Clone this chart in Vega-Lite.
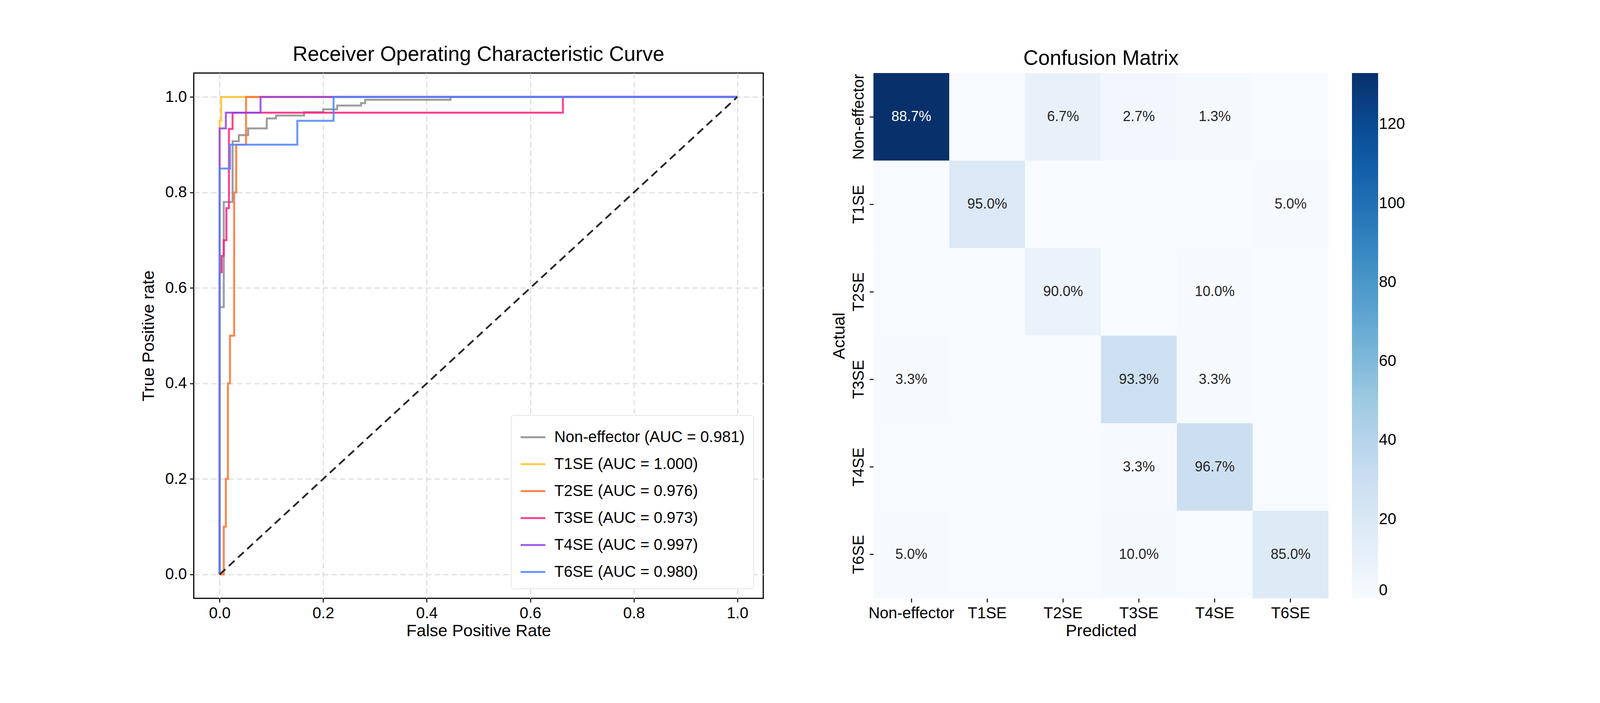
{
"$schema":"https://vega.github.io/schema/vega-lite/v6.json",
"background":"white",
"padding":{"left":357,"top":112,"right":20,"bottom":20},
"spacing":170,
"config":{"font":"Liberation Sans","view":{"stroke":"black","strokeWidth":3},"title":{"fontSize":53,"fontWeight":"normal","color":"black","offset":20},
"axis":{"labelFontSize":40,"titleFontSize":43,"titleFontWeight":"normal","labelColor":"black","titleColor":"black","tickColor":"black","tickSize":10,"tickWidth":2.5,"domain":false,"labelPadding":8,"labelLimit":1000}},
"datasets":{
"roc":[
{"s":"Non-effector (AUC = 0.981)","i":0,"fpr":0,"tpr":0},{"s":"Non-effector (AUC = 0.981)","i":1,"fpr":0,"tpr":0.56},{"s":"Non-effector (AUC = 0.981)","i":2,"fpr":0.008,"tpr":0.56},{"s":"Non-effector (AUC = 0.981)","i":3,"fpr":0.008,"tpr":0.78},{"s":"Non-effector (AUC = 0.981)","i":4,"fpr":0.025,"tpr":0.78},{"s":"Non-effector (AUC = 0.981)","i":5,"fpr":0.025,"tpr":0.907},{"s":"Non-effector (AUC = 0.981)","i":6,"fpr":0.037,"tpr":0.907},{"s":"Non-effector (AUC = 0.981)","i":7,"fpr":0.037,"tpr":0.92},{"s":"Non-effector (AUC = 0.981)","i":8,"fpr":0.055,"tpr":0.92},{"s":"Non-effector (AUC = 0.981)","i":9,"fpr":0.055,"tpr":0.934},{"s":"Non-effector (AUC = 0.981)","i":10,"fpr":0.091,"tpr":0.934},{"s":"Non-effector (AUC = 0.981)","i":11,"fpr":0.091,"tpr":0.955},{"s":"Non-effector (AUC = 0.981)","i":12,"fpr":0.109,"tpr":0.955},{"s":"Non-effector (AUC = 0.981)","i":13,"fpr":0.109,"tpr":0.961},{"s":"Non-effector (AUC = 0.981)","i":14,"fpr":0.163,"tpr":0.961},{"s":"Non-effector (AUC = 0.981)","i":15,"fpr":0.163,"tpr":0.968},{"s":"Non-effector (AUC = 0.981)","i":16,"fpr":0.2,"tpr":0.968},{"s":"Non-effector (AUC = 0.981)","i":17,"fpr":0.2,"tpr":0.974},{"s":"Non-effector (AUC = 0.981)","i":18,"fpr":0.227,"tpr":0.974},{"s":"Non-effector (AUC = 0.981)","i":19,"fpr":0.227,"tpr":0.982},{"s":"Non-effector (AUC = 0.981)","i":20,"fpr":0.273,"tpr":0.982},{"s":"Non-effector (AUC = 0.981)","i":21,"fpr":0.273,"tpr":0.987},{"s":"Non-effector (AUC = 0.981)","i":22,"fpr":0.281,"tpr":0.987},{"s":"Non-effector (AUC = 0.981)","i":23,"fpr":0.281,"tpr":0.994},{"s":"Non-effector (AUC = 0.981)","i":24,"fpr":0.446,"tpr":0.994},{"s":"Non-effector (AUC = 0.981)","i":25,"fpr":0.446,"tpr":1},{"s":"Non-effector (AUC = 0.981)","i":26,"fpr":1,"tpr":1},
{"s":"T1SE (AUC = 1.000)","i":0,"fpr":0,"tpr":0},{"s":"T1SE (AUC = 1.000)","i":1,"fpr":0,"tpr":0.95},{"s":"T1SE (AUC = 1.000)","i":2,"fpr":0.003,"tpr":0.95},{"s":"T1SE (AUC = 1.000)","i":3,"fpr":0.003,"tpr":1},{"s":"T1SE (AUC = 1.000)","i":4,"fpr":1,"tpr":1},
{"s":"T2SE (AUC = 0.976)","i":0,"fpr":0,"tpr":0},{"s":"T2SE (AUC = 0.976)","i":1,"fpr":0.008,"tpr":0},{"s":"T2SE (AUC = 0.976)","i":2,"fpr":0.008,"tpr":0.1},{"s":"T2SE (AUC = 0.976)","i":3,"fpr":0.012,"tpr":0.1},{"s":"T2SE (AUC = 0.976)","i":4,"fpr":0.012,"tpr":0.2},{"s":"T2SE (AUC = 0.976)","i":5,"fpr":0.016,"tpr":0.2},{"s":"T2SE (AUC = 0.976)","i":6,"fpr":0.016,"tpr":0.4},{"s":"T2SE (AUC = 0.976)","i":7,"fpr":0.02,"tpr":0.4},{"s":"T2SE (AUC = 0.976)","i":8,"fpr":0.02,"tpr":0.5},{"s":"T2SE (AUC = 0.976)","i":9,"fpr":0.028,"tpr":0.5},{"s":"T2SE (AUC = 0.976)","i":10,"fpr":0.028,"tpr":0.8},{"s":"T2SE (AUC = 0.976)","i":11,"fpr":0.032,"tpr":0.8},{"s":"T2SE (AUC = 0.976)","i":12,"fpr":0.032,"tpr":0.9},{"s":"T2SE (AUC = 0.976)","i":13,"fpr":0.051,"tpr":0.9},{"s":"T2SE (AUC = 0.976)","i":14,"fpr":0.051,"tpr":1},{"s":"T2SE (AUC = 0.976)","i":15,"fpr":1,"tpr":1},
{"s":"T3SE (AUC = 0.973)","i":0,"fpr":0,"tpr":0},{"s":"T3SE (AUC = 0.973)","i":1,"fpr":0,"tpr":0.633},{"s":"T3SE (AUC = 0.973)","i":2,"fpr":0.004,"tpr":0.633},{"s":"T3SE (AUC = 0.973)","i":3,"fpr":0.004,"tpr":0.667},{"s":"T3SE (AUC = 0.973)","i":4,"fpr":0.008,"tpr":0.667},{"s":"T3SE (AUC = 0.973)","i":5,"fpr":0.008,"tpr":0.7},{"s":"T3SE (AUC = 0.973)","i":6,"fpr":0.013,"tpr":0.7},{"s":"T3SE (AUC = 0.973)","i":7,"fpr":0.013,"tpr":0.767},{"s":"T3SE (AUC = 0.973)","i":8,"fpr":0.018,"tpr":0.767},{"s":"T3SE (AUC = 0.973)","i":9,"fpr":0.018,"tpr":0.933},{"s":"T3SE (AUC = 0.973)","i":10,"fpr":0.025,"tpr":0.933},{"s":"T3SE (AUC = 0.973)","i":11,"fpr":0.025,"tpr":0.967},{"s":"T3SE (AUC = 0.973)","i":12,"fpr":0.663,"tpr":0.967},{"s":"T3SE (AUC = 0.973)","i":13,"fpr":0.663,"tpr":1},{"s":"T3SE (AUC = 0.973)","i":14,"fpr":1,"tpr":1},
{"s":"T4SE (AUC = 0.997)","i":0,"fpr":0,"tpr":0},{"s":"T4SE (AUC = 0.997)","i":1,"fpr":0,"tpr":0.934},{"s":"T4SE (AUC = 0.997)","i":2,"fpr":0.012,"tpr":0.934},{"s":"T4SE (AUC = 0.997)","i":3,"fpr":0.012,"tpr":0.967},{"s":"T4SE (AUC = 0.997)","i":4,"fpr":0.079,"tpr":0.967},{"s":"T4SE (AUC = 0.997)","i":5,"fpr":0.079,"tpr":1},{"s":"T4SE (AUC = 0.997)","i":6,"fpr":1,"tpr":1},
{"s":"T6SE (AUC = 0.980)","i":0,"fpr":0,"tpr":0},{"s":"T6SE (AUC = 0.980)","i":1,"fpr":0,"tpr":0.85},{"s":"T6SE (AUC = 0.980)","i":2,"fpr":0.02,"tpr":0.85},{"s":"T6SE (AUC = 0.980)","i":3,"fpr":0.02,"tpr":0.9},{"s":"T6SE (AUC = 0.980)","i":4,"fpr":0.15,"tpr":0.9},{"s":"T6SE (AUC = 0.980)","i":5,"fpr":0.15,"tpr":0.95},{"s":"T6SE (AUC = 0.980)","i":6,"fpr":0.22,"tpr":0.95},{"s":"T6SE (AUC = 0.980)","i":7,"fpr":0.22,"tpr":1},{"s":"T6SE (AUC = 0.980)","i":8,"fpr":1,"tpr":1}
],
"diag":[{"fpr":0,"tpr":0},{"fpr":1,"tpr":1}],
"cm":[
{"a":"Non-effector","p":"Non-effector","n":133,"t":"88.7%"},{"a":"Non-effector","p":"T1SE","n":0,"t":""},{"a":"Non-effector","p":"T2SE","n":10,"t":"6.7%"},{"a":"Non-effector","p":"T3SE","n":4,"t":"2.7%"},{"a":"Non-effector","p":"T4SE","n":2,"t":"1.3%"},{"a":"Non-effector","p":"T6SE","n":0,"t":""},
{"a":"T1SE","p":"Non-effector","n":0,"t":""},{"a":"T1SE","p":"T1SE","n":19,"t":"95.0%"},{"a":"T1SE","p":"T2SE","n":0,"t":""},{"a":"T1SE","p":"T3SE","n":0,"t":""},{"a":"T1SE","p":"T4SE","n":0,"t":""},{"a":"T1SE","p":"T6SE","n":1,"t":"5.0%"},
{"a":"T2SE","p":"Non-effector","n":0,"t":""},{"a":"T2SE","p":"T1SE","n":0,"t":""},{"a":"T2SE","p":"T2SE","n":9,"t":"90.0%"},{"a":"T2SE","p":"T3SE","n":0,"t":""},{"a":"T2SE","p":"T4SE","n":1,"t":"10.0%"},{"a":"T2SE","p":"T6SE","n":0,"t":""},
{"a":"T3SE","p":"Non-effector","n":1,"t":"3.3%"},{"a":"T3SE","p":"T1SE","n":0,"t":""},{"a":"T3SE","p":"T2SE","n":0,"t":""},{"a":"T3SE","p":"T3SE","n":28,"t":"93.3%"},{"a":"T3SE","p":"T4SE","n":1,"t":"3.3%"},{"a":"T3SE","p":"T6SE","n":0,"t":""},
{"a":"T4SE","p":"Non-effector","n":0,"t":""},{"a":"T4SE","p":"T1SE","n":0,"t":""},{"a":"T4SE","p":"T2SE","n":0,"t":""},{"a":"T4SE","p":"T3SE","n":1,"t":"3.3%"},{"a":"T4SE","p":"T4SE","n":29,"t":"96.7%"},{"a":"T4SE","p":"T6SE","n":0,"t":""},
{"a":"T6SE","p":"Non-effector","n":1,"t":"5.0%"},{"a":"T6SE","p":"T1SE","n":0,"t":""},{"a":"T6SE","p":"T2SE","n":0,"t":""},{"a":"T6SE","p":"T3SE","n":2,"t":"10.0%"},{"a":"T6SE","p":"T4SE","n":0,"t":""},{"a":"T6SE","p":"T6SE","n":17,"t":"85.0%"}
]},
"hconcat":[
{"width":1458,"height":1345,"title":"Receiver Operating Characteristic Curve",
"layer":[
{"data":{"name":"roc"},"mark":{"type":"line","strokeWidth":5,"opacity":0.85,"interpolate":"linear"},
"encoding":{
"x":{"field":"fpr","type":"quantitative","scale":{"domain":[-0.05,1.05],"nice":false,"zero":false},"axis":{"values":[0,0.2,0.4,0.6,0.8,1.0],"format":".1f","title":"False Positive Rate","grid":true,"gridDash":[14,8],"gridColor":"#d9d9d9","gridWidth":2.5}},
"y":{"field":"tpr","type":"quantitative","scale":{"domain":[-0.05,1.05],"nice":false,"zero":false},"axis":{"values":[0,0.2,0.4,0.6,0.8,1.0],"format":".1f","title":"True Positive rate","grid":true,"gridDash":[14,8],"gridColor":"#d9d9d9","gridWidth":2.5,"titlePadding":20}},
"color":{"field":"s","type":"nominal","scale":{"domain":["Non-effector (AUC = 0.981)","T1SE (AUC = 1.000)","T2SE (AUC = 0.976)","T3SE (AUC = 0.973)","T4SE (AUC = 0.997)","T6SE (AUC = 0.980)"],"range":["#8c8c8c","#ffc125","#ff6f2a","#ff1f7f","#9340e8","#4f86ff"]},
"legend":{"title":null,"orient":"bottom-right","offset":25,"labelFontSize":40,"symbolType":"stroke","symbolStrokeWidth":5,"symbolSize":4000,"rowPadding":14,"padding":22,"strokeColor":"#cccccc","fillColor":"white","cornerRadius":8,"labelColor":"black","labelLimit":1000,"labelOffset":20}},
"order":{"field":"i","type":"quantitative"}}},
{"data":{"name":"diag"},"mark":{"type":"line","color":"#262626","strokeWidth":4.5,"strokeDash":[20,12]},
"encoding":{"x":{"field":"fpr","type":"quantitative"},"y":{"field":"tpr","type":"quantitative"}}}
]},
{"width":1165,"height":1345,"title":{"text":"Confusion Matrix","offset":10},
"data":{"name":"cm"},
"view":{"stroke":null},
"encoding":{
"x":{"field":"p","type":"nominal","sort":["Non-effector","T1SE","T2SE","T3SE","T4SE","T6SE"],"axis":{"title":"Predicted","labelAngle":0,"titlePadding":4}},
"y":{"field":"a","type":"nominal","sort":["Non-effector","T1SE","T2SE","T3SE","T4SE","T6SE"],"axis":{"title":"Actual","labelAngle":-90,"labelAlign":"center","labelBaseline":"bottom","titlePadding":8}}},
"layer":[
{"mark":{"type":"rect"},"encoding":{"color":{"field":"n","type":"quantitative","scale":{"domain":[0,16.6,33.2,49.9,66.5,83.1,99.7,116.4,133],"range":["#f7fbff","#deebf7","#c6dbef","#9ecae1","#6baed6","#4292c6","#2171b5","#08519c","#08306b"]},
"legend":{"title":null,"direction":"vertical","gradientLength":1345,"gradientThickness":67,"values":[0,20,40,60,80,100,120],"labelFontSize":40,"labelColor":"black","offset":60,"tickCount":7,"gradientStrokeWidth":0}}}},
{"mark":{"type":"text","fontSize":36},"encoding":{"text":{"field":"t"},"color":{"condition":{"test":"datum.n > 70","value":"white"},"value":"#262626"}}}
]}
]}
